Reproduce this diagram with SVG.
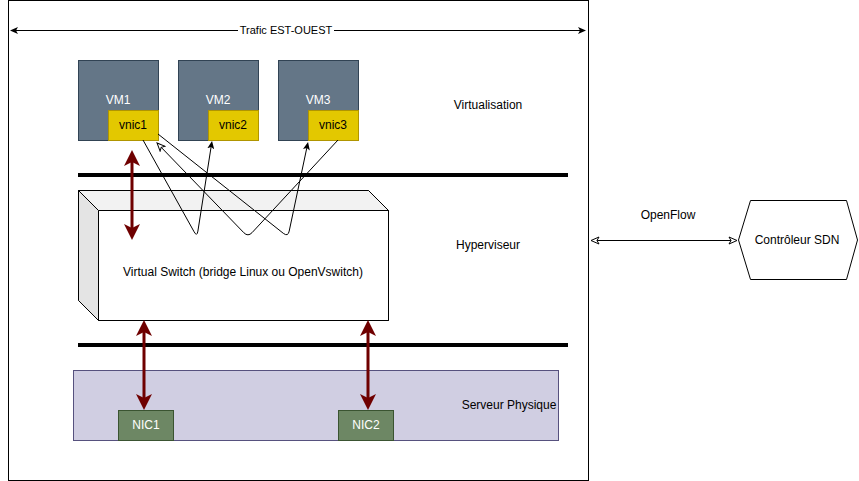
<svg xmlns="http://www.w3.org/2000/svg" width="859" height="481" viewBox="0 0 859 481">
<style>
text{font-family:"Liberation Sans",Arial,sans-serif;font-size:12px;text-anchor:middle}
.sm{font-size:11px}
.lbl{fill:#000}
.wt{fill:#fff}
.vm{fill:#647687;stroke:#314354;stroke-width:1}
.vnic{fill:#e3c800;stroke:#b09500;stroke-width:1}
.nic{fill:#6d8764;stroke:#3a5431;stroke-width:1}
.bar{stroke:#000;stroke-width:4}
.red{stroke:#6f0000;stroke-width:3;fill:none}
.thin{stroke:#000;stroke-width:1;fill:none}
</style>
<defs>
<marker id="ab" viewBox="0 0 8 7" refX="2" refY="3.5" markerWidth="8" markerHeight="7" markerUnits="userSpaceOnUse" orient="auto-start-reverse">
<path d="M0,0 L8,3.5 L0,7 L2,3.5 Z" fill="#000"/>
</marker>
<marker id="ao" viewBox="-1 -1 10 9" refX="2" refY="3.5" markerWidth="10" markerHeight="9" markerUnits="userSpaceOnUse" orient="auto-start-reverse">
<path d="M0,0 L8,3.5 L0,7 L2,3.5 Z" fill="#fff" stroke="#000" stroke-width="1"/>
</marker>
<marker id="ar" viewBox="0 0 16 16" refX="4" refY="8" markerWidth="16" markerHeight="16" markerUnits="userSpaceOnUse" orient="auto-start-reverse">
<path d="M0,0 L16,8 L0,16 L4,8 Z" fill="#6f0000"/>
</marker>
</defs>
<rect width="859" height="481" fill="#fff"/>
<g id="frame">
<rect x="8.5" y="0.5" width="580" height="480" fill="none" stroke="#000"/>
</g>
<g id="label-virtualisation"><text class="lbl" x="488" y="109">Virtualisation</text></g>
<g id="label-hyperviseur"><text class="lbl" x="488" y="249">Hyperviseur</text></g>
<g id="serveur">
<rect x="73.5" y="370.5" width="485" height="70" fill="#d0cee2" stroke="#56517e"/>
<text class="lbl" x="509" y="409">Serveur Physique</text>
</g>
<g id="bars">
<line class="bar" x1="78" y1="175" x2="568" y2="175"/>
<line class="bar" x1="78" y1="345" x2="568" y2="345"/>
</g>
<g id="vswitch">
<path d="M78.5,190.5 L368.5,190.5 L388.5,210.5 L388.5,320.5 L98.5,320.5 L78.5,300.5 Z" fill="#fff" stroke="#000"/>
<polygon points="78.5,190.5 368.5,190.5 388.5,210.5 98.5,210.5" fill="#f2f2f2"/>
<polygon points="78.5,190.5 98.5,210.5 98.5,320.5 78.5,300.5" fill="#e4e4e4"/>
<path d="M78.5,190.5 L368.5,190.5 L388.5,210.5 L388.5,320.5 L98.5,320.5 L78.5,300.5 Z M78.5,190.5 L98.5,210.5 L388.5,210.5 M98.5,210.5 L98.5,320.5" fill="none" stroke="#000"/>
<text class="lbl" x="243" y="276">Virtual Switch (bridge Linux ou OpenVswitch)</text>
</g>
<g id="vm1">
<rect class="vm" x="78.5" y="60.5" width="80" height="80"/>
<text class="wt" x="118" y="104">VM1</text>
</g>
<g id="vnic1">
<rect class="vnic" x="108.5" y="110.5" width="50" height="30"/>
<text class="lbl" x="133" y="129">vnic1</text>
</g>
<g id="vm2">
<rect class="vm" x="178.5" y="60.5" width="80" height="80"/>
<text class="wt" x="218" y="104">VM2</text>
</g>
<g id="vnic2">
<rect class="vnic" x="208.5" y="110.5" width="50" height="30"/>
<text class="lbl" x="233" y="129">vnic2</text>
</g>
<g id="vm3">
<rect class="vm" x="278.5" y="60.5" width="80" height="80"/>
<text class="wt" x="318" y="104">VM3</text>
</g>
<g id="vnic3">
<rect class="vnic" x="308.5" y="110.5" width="50" height="30"/>
<text class="lbl" x="333" y="129">vnic3</text>
</g>
<g id="nic1">
<rect class="nic" x="118.5" y="410.5" width="55" height="30"/>
<text class="wt" x="146" y="429">NIC1</text>
</g>
<g id="nic2">
<rect class="nic" x="338.5" y="410.5" width="55" height="30"/>
<text class="wt" x="366" y="429">NIC2</text>
</g>
<g id="controleur">
<polygon points="738.5,240 750.5,200.5 846.5,200.5 857.5,240 846.5,279.5 750.5,279.5" fill="#fff" stroke="#000"/>
<text class="lbl" x="797" y="244">Contrôleur SDN</text>
</g>
<g id="connectors">
<line class="thin" x1="16" y1="30.5" x2="580" y2="30.5" marker-start="url(#ab)" marker-end="url(#ab)"/>
<rect x="238" y="23" width="96" height="14" fill="#fff"/>
<text class="lbl sm" x="286" y="34">Trafic EST-OUEST</text>
<line class="thin" x1="597" y1="240.5" x2="731" y2="240.5" marker-start="url(#ao)" marker-end="url(#ao)"/>
<text class="lbl" x="668" y="219">OpenFlow</text>
<path class="thin" d="M143,140 L194.1,231.8 Q197,237 197.9,231.1 L211.1,146.9" marker-end="url(#ab)"/>
<path class="thin" d="M338,140 L252.1,232.6 Q248,237 243.8,232.7 L161.2,147.3" marker-end="url(#ao)"/>
<path class="thin" d="M158,134 L283.3,233.3 Q288,237 289.2,231.1 L306.8,147.9" marker-end="url(#ab)"/>
<line class="red" x1="132" y1="162" x2="132" y2="228" marker-start="url(#ar)" marker-end="url(#ar)"/>
<line class="red" x1="144" y1="332" x2="144" y2="398" marker-start="url(#ar)" marker-end="url(#ar)"/>
<line class="red" x1="368" y1="332" x2="368" y2="398" marker-start="url(#ar)" marker-end="url(#ar)"/>
</g>
</svg>
